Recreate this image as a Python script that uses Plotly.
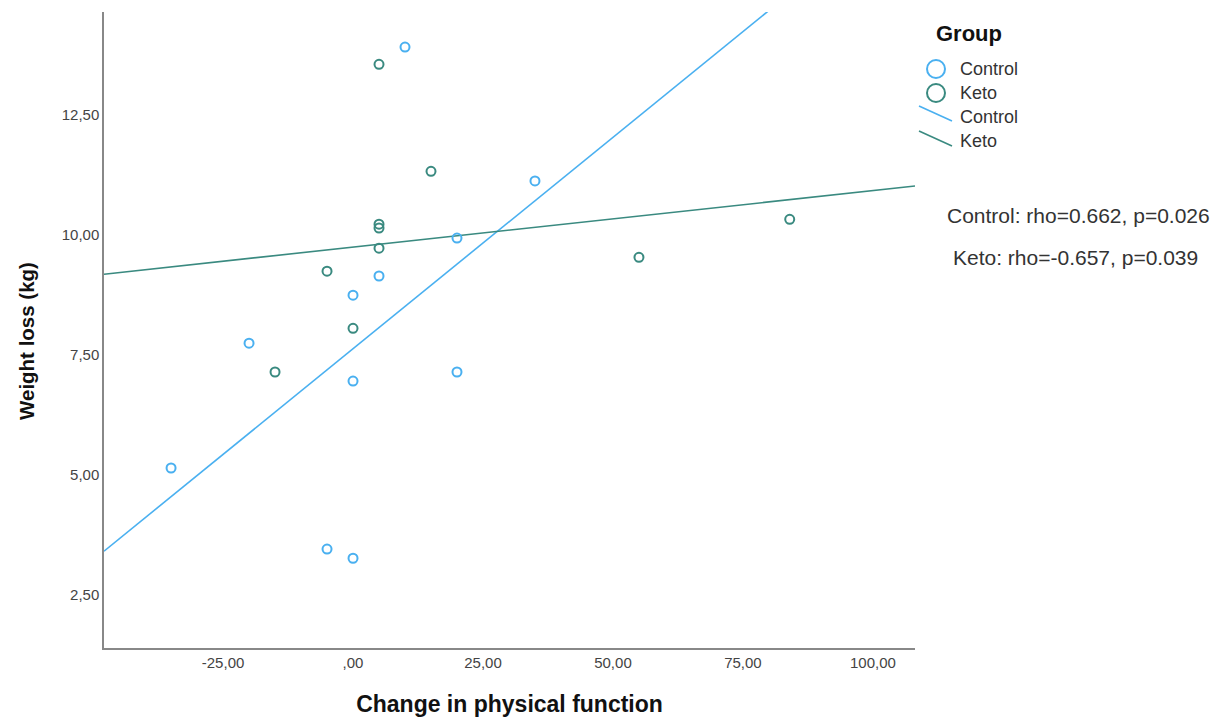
import numpy as np
import plotly.graph_objects as go

# ---- data ----
control_x = [10, 35, 20, 5, 0, -20, 0, 20, -35, -5, 0]
control_y = [13.92, 11.13, 9.94, 9.15, 8.75, 7.75, 6.96, 7.15, 5.15, 3.46, 3.27]
keto_x = [5, 15, 5, 5, 5, -5, 0, -15, 55, 84]
keto_y = [13.56, 11.33, 10.23, 10.15, 9.73, 9.25, 8.06, 7.15, 9.54, 10.33]

x_ticks = [-25, 0, 25, 50, 75, 100]
x_tick_labels = ["-25,00", ",00", "25,00", "50,00", "75,00", "100,00"]
y_ticks = [2.5, 5, 7.5, 10, 12.5]
y_tick_labels = ["2,50", "5,00", "7,50", "10,00", "12,50"]

stats_text = ["Control: rho=0.662, p=0.026", "Keto: rho=-0.657, p=0.039"]

X_RANGE = [-47.9, 108.1]
Y_RANGE = [1.40, 14.65]

C_CONTROL = "#4AB0F0"
C_KETO = "#3A8A80"
FONT = "Liberation Sans, Arial, sans-serif"

W, H = 1224, 727
OFF = 8  # page body margin
# target plot area in page pixels
PL, PR, PT, PB = 104, 915, 12, 648
L, R, T, B = PL - OFF, W - (PR - OFF), PT - OFF, H - (PB - OFF)
pw, ph = W - L - R, H - T - B

def px(x):
    return (x - OFF - L) / pw

def py(y):
    return 1 - (y - OFF - T) / ph

fig = go.Figure()

for xs, ys, col in [(control_x, control_y, C_CONTROL), (keto_x, keto_y, C_KETO)]:
    slope, icpt = np.polyfit(xs, ys, 1)
    lx = np.array(X_RANGE)
    fig.add_trace(go.Scatter(x=lx, y=slope * lx + icpt, mode="lines",
                             line=dict(color=col, width=1.6), showlegend=False,
                             hoverinfo="skip"))

for xs, ys, col in [(control_x, control_y, C_CONTROL), (keto_x, keto_y, C_KETO)]:
    fig.add_trace(go.Scatter(x=xs, y=ys, mode="markers",
                             marker=dict(symbol="circle-open", size=9, color=col,
                                         line=dict(color=col, width=2)),
                             showlegend=False))

fig.update_layout(
    width=W, height=H,
    margin=dict(l=L, r=R, t=T, b=B),
    paper_bgcolor="white", plot_bgcolor="white",
    font=dict(family=FONT, color="#333333"),
    xaxis=dict(range=X_RANGE, tickvals=x_ticks, ticktext=x_tick_labels,
               showgrid=False, zeroline=False, showline=True,
               linecolor="#888888", linewidth=1.5, ticks="",
               tickfont=dict(size=15, color="#444444"),
               title=dict(text="<b>Change in physical function</b>",
                          font=dict(size=23, color="#111111"), standoff=26)),
    yaxis=dict(range=Y_RANGE, tickvals=y_ticks, ticktext=y_tick_labels,
               showgrid=False, zeroline=False, showline=True,
               linecolor="#888888", linewidth=1.5, ticks="",
               tickfont=dict(size=15, color="#444444")),
)

# y-axis title placed as rotated annotation (offset below plot centre as in reference)
fig.add_annotation(x=px(26), y=py(341), xref="paper", yref="paper",
                   text="<b>Weight loss (kg)</b>", textangle=-90, showarrow=False,
                   xanchor="center", yanchor="middle",
                   font=dict(size=20.5, color="#111111", family=FONT))

fig.add_annotation(x=px(934), y=py(34), xref="paper", yref="paper", text="<b>Group</b>",
                   showarrow=False, xanchor="left", yanchor="middle",
                   font=dict(size=22, color="#111111", family=FONT))
legend_items = [("Control", C_CONTROL, "marker", 69), ("Keto", C_KETO, "marker", 93),
                ("Control", C_CONTROL, "line_up", 117), ("Keto", C_KETO, "line_down", 141)]
for name, col, kind, yy in legend_items:
    if kind == "marker":
        fig.add_shape(type="circle", xref="paper", yref="paper",
                      x0=px(927), x1=px(945), y0=py(yy - 9), y1=py(yy + 9),
                      line=dict(color=col, width=2))
    elif kind == "line_up":
        fig.add_shape(type="line", xref="paper", yref="paper",
                      x0=px(919), y0=py(106), x1=px(952), y1=py(121),
                      line=dict(color=col, width=1.6))
    else:
        fig.add_shape(type="line", xref="paper", yref="paper",
                      x0=px(919), y0=py(131), x1=px(952), y1=py(146),
                      line=dict(color=col, width=1.6))
    fig.add_annotation(x=px(958), y=py(yy), xref="paper", yref="paper", text=name,
                       showarrow=False, xanchor="left", yanchor="middle",
                       font=dict(size=18, color="#333333", family=FONT))

for txt, cx, cy in [(stats_text[0], 1078, 215), (stats_text[1], 1075, 257)]:
    fig.add_annotation(x=px(cx), y=py(cy), xref="paper", yref="paper", text=txt,
                       showarrow=False, xanchor="center", yanchor="middle",
                       font=dict(size=21, color="#333333", family=FONT))

fig.write_html("out.html")
